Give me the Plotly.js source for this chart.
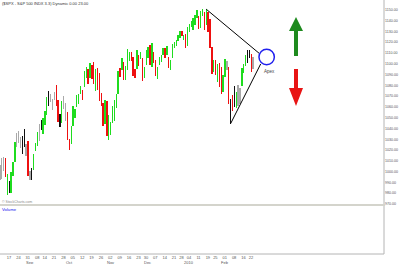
<!DOCTYPE html>
<html><head><meta charset="utf-8">
<script src="https://cdn.plot.ly/plotly-3.0.1.min.js"></script>
<style>html,body{margin:0;padding:0;background:#fff}#c{width:400px;height:264px}</style>
</head><body><div id="c"></div>
<script>
// trading days, Aug 11 2009 .. Feb 24 2010
const monthDays = {
  "2009-08": [11,12,13,14,17,18,19,20,21,24,25,26,27,28,31],
  "2009-09": [1,2,3,4,8,9,10,11,14,15,16,17,18,21,22,23,24,25,28,29,30],
  "2009-10": [1,2,5,6,7,8,9,12,13,14,15,16,19,20,21,22,23,26,27,28,29,30],
  "2009-11": [2,3,4,5,6,9,10,11,12,13,16,17,18,19,20,23,24,25,27,30],
  "2009-12": [1,2,3,4,7,8,9,10,11,14,15,16,17,18,21,22,23,24,28,29,30,31],
  "2010-01": [4,5,6,7,8,11,12,13,14,15,19,20,21,22,25,26,27,28,29],
  "2010-02": [1,2,3,4,5,8,9,10,11,12,16,17,18,19,22,23,24]
};
const highs = [
 1005.8,1012.8,1013.1,1012.6,998.2,991.2,999.6,1008.9,1027.6,1035.8,1037.8,1032.5,1033.3,1039.5,1025.2,
 1028.5,1000.3,1003.4,1016.5,1026.1,1036.3,1044.1,1048.2,1049.7,1056.0,1068.8,1074.8,1071.5,1067.3,1073.8,1080.2,1066.3,1053.5,1065.1,1069.6,1063.4,
 1054.9,1030.6,1042.6,1060.6,1058.0,1070.7,1071.5,1079.5,1075.3,1093.2,1096.6,1094.7,1100.2,1098.6,1101.4,1095.2,1095.8,1091.8,1072.5,1063.3,1066.8,1065.4,
 1052.2,1046.4,1061.0,1066.7,1071.5,1093.2,1096.4,1105.4,1102.0,1097.8,1113.7,1110.5,1111.1,1106.4,1094.7,1112.4,1107.6,1111.2,1105.5,1097.2,
 1112.3,1115.6,1117.3,1119.1,1110.7,1103.0,1097.0,1106.3,1108.5,1114.8,1114.1,1116.2,1106.4,1103.7,1118.7,1120.3,1121.6,1126.5,1130.4,1130.4,1126.4,1127.6,
 1133.9,1136.6,1139.2,1142.5,1145.4,1149.7,1143.8,1148.4,1150.4,1147.8,1150.5,1148.0,1141.6,1115.5,1103.0,1103.7,1099.5,1100.2,1096.5,
 1089.4,1104.7,1102.7,1097.3,1067.1,1071.2,1079.3,1073.7,1080.0,1077.8,1095.7,1099.5,1108.2,1112.4,1112.3,1108.6,1106.4
];
const lows = [
 992.4,993.4,1000.8,994.6,978.5,980.6,980.6,996.4,1009.1,1022.5,1026.2,1021.6,1016.2,1023.1,1014.6,
 996.3,992.0,992.3,1001.7,1018.7,1024.0,1028.0,1038.4,1035.0,1043.4,1052.9,1061.2,1064.3,1057.5,1066.4,1060.4,1045.9,1041.2,1045.4,1057.8,1046.5,
 1029.5,1020.0,1025.9,1042.0,1050.1,1060.0,1063.0,1071.6,1066.7,1078.7,1086.4,1081.5,1086.5,1086.2,1080.8,1074.3,1075.5,1065.2,1060.6,1042.2,1043.7,1033.4,
 1029.4,1033.9,1045.2,1047.3,1059.3,1072.3,1087.4,1093.8,1084.9,1085.3,1094.1,1102.2,1102.7,1088.4,1086.8,1094.9,1097.6,1104.8,1083.7,1086.3,
 1098.9,1105.3,1098.7,1096.5,1100.8,1088.6,1085.9,1098.7,1101.3,1107.8,1105.4,1108.0,1095.9,1093.9,1105.3,1114.5,1116.0,1121.1,1123.5,1126.1,1121.9,1114.8,
 1116.6,1129.7,1134.0,1131.3,1136.2,1142.0,1131.8,1133.2,1143.8,1131.4,1135.8,1129.3,1114.8,1090.2,1092.4,1089.9,1083.1,1078.5,1071.6,
 1073.9,1088.0,1094.0,1062.8,1044.5,1056.5,1060.1,1059.3,1060.6,1063.0,1079.1,1091.1,1097.5,1100.8,1105.4,1092.2,1095.5
];
// bar colour codes: g green, r red, k black, s grey
const barCodes =
 "sssrgkgggssskks" +
 "rskgggskgggksssrrkgss" +
 "rrggggggrggrgrrgrrrrgr" +
 "ggggggrgrgggrrrgrgrg" +
 "ggrgrrggggrgrggggggrgr" +
 "ggggggrggrgrrrgrgrr" +
 "ggsrkrkgssgggkkrs";
const tickDates = ["2009-08-17","2009-08-24","2009-08-31","2009-09-08","2009-09-14","2009-09-21","2009-09-28","2009-10-05","2009-10-12","2009-10-19","2009-10-26","2009-11-02","2009-11-09","2009-11-16","2009-11-23","2009-11-30","2009-12-07","2009-12-14","2009-12-21","2009-12-28","2010-01-04","2010-01-11","2010-01-19","2010-01-25","2010-02-01","2010-02-08","2010-02-16","2010-02-22"];
const tickLabels = ["17","24","31","08","14","21","28","05","12","19","26","02","09","16","23","30","07","14","21","28","04","11","19","25","01","08","16","22"];
const monthDates = ["2009-09-01","2009-10-01","2009-11-02","2009-12-01","2010-01-04","2010-02-01"];
const monthLabels = ["Sep","Oct","Nov","Dec","2010","Feb"];
const priceTicks = [970,980,990,1000,1010,1020,1030,1040,1050,1060,1070,1080,1090,1100,1110,1120,1130,1140,1150];
// pattern points (date, price)
const peak = ["2010-01-19", 1150.45];
const trough = ["2010-02-05", 1044.5];

const dates = [];
Object.keys(monthDays).forEach(m => monthDays[m].forEach(d => dates.push(m + "-" + String(d).padStart(2,"0"))));
const idx = d => dates.indexOf(d);
const xs = dates.map((d,i)=>i);
const colMap = {g:"#1fdc1f", r:"#ee1010", k:"#101010", s:"#a9a9a9"};
const cols = barCodes.split("").map(c=>colMap[c]);
const LBL = 0.85; // labels sit slightly right of the bar

// pixel helpers (plot area 384 x 254)
const PW=384, PH=254;
const px = x => x/PW, py = y => 1 - y/PH;
const sepY = 205;
const yDomLo = 1 - sepY/PH;
const FONT = "Liberation Sans, Arial, sans-serif";

const trace = {
  type:"bar", x:xs, base:lows, y:highs.map((h,i)=>h-lows[i]),
  marker:{color:cols, line:{width:0}}, width:0.72, hoverinfo:"skip"
};

function arrow(xc, yTip, yHeadBase, yTail, color){
  const hw=7, sw=2;
  return {type:"path", xref:"paper", yref:"paper", fillcolor:color, line:{width:0},
    path:`M ${px(xc)} ${py(yTip)} L ${px(xc+hw)} ${py(yHeadBase)} L ${px(xc+sw)} ${py(yHeadBase)} L ${px(xc+sw)} ${py(yTail)} L ${px(xc-sw)} ${py(yTail)} L ${px(xc-sw)} ${py(yHeadBase)} L ${px(xc-hw)} ${py(yHeadBase)} Z`};
}

const apexX = 142.2, apexY = 1106.2;
const shapes = [
  {type:"line", xref:"paper", yref:"paper", x0:1, x1:1, y0:0, y1:1, line:{color:"#b4b4b4", width:1}},
  {type:"line", xref:"paper", yref:"paper", x0:0, x1:1, y0:0, y1:0, line:{color:"#b4b4b4", width:1}},
  {type:"line", xref:"paper", yref:"paper", x0:0, x1:1.003, y0:yDomLo, y1:yDomLo, line:{color:"#d4d4cc", width:2}},
  {type:"line", xref:"x", yref:"y", x0:idx(peak[0]), y0:peak[1], x1:138.2, y1:1109.6, line:{color:"#000", width:1}},
  {type:"line", xref:"x", yref:"y", x0:idx(trough[0]), y0:trough[1], x1:139.0, y1:1099.7, line:{color:"#000", width:1}},
  {type:"circle", xref:"x", yref:"y", x0:apexX-4.1, x1:apexX+4.1, y0:apexY-7.1, y1:apexY+7.1, line:{color:"#2020ee", width:1.5}},
  arrow(296, 17, 31, 56, "#1e8a1e"),
  arrow(296, 106, 88, 69, "#e81414")
];

const annotations = [
  {xref:"paper", yref:"paper", x:0, y:py(4), text:"($SPX - S&P 500 INDX 3.3) Dynamic 0.00 23.00", showarrow:false, xanchor:"left", yanchor:"middle", font:{size:4, color:"#333", family:FONT}},
  {xref:"paper", yref:"paper", x:0, y:py(202), text:"© StockCharts.com", showarrow:false, xanchor:"left", yanchor:"middle", font:{size:3.5, color:"#888", family:FONT}},
  {xref:"paper", yref:"paper", x:0, y:py(209), text:"Volume", showarrow:false, xanchor:"left", yanchor:"middle", font:{size:4.2, color:"#1010ee", family:FONT}},
  {xref:"paper", yref:"paper", x:px(262), y:py(72), text:"Apex", showarrow:false, xanchor:"left", yanchor:"middle", font:{size:4.5, color:"#444", family:FONT}}
];
monthDates.forEach((d,i)=>annotations.push({xref:"x", yref:"paper", x:idx(d)+LBL, y:py(262), text:monthLabels[i], showarrow:false, xanchor:"center", yanchor:"middle", font:{size:4, color:"#555", family:FONT}}));

const layout = {
  width:400, height:264, margin:{l:0,r:16,t:0,b:10,pad:0},
  paper_bgcolor:"#fff", plot_bgcolor:"#fff", showlegend:false, bargap:0,
  font:{family:FONT, size:4, color:"#555"},
  xaxis:{range:[0.05,204.75], anchor:"free", position:0, tickvals:tickDates.map(d=>idx(d)+LBL), ticktext:tickLabels, ticks:"", ticklen:0, showgrid:false, zeroline:false, showline:false, tickfont:{size:4, color:"#555", family:FONT}, fixedrange:true},
  yaxis:{domain:[yDomLo,1], range:[969.07,1159.0], side:"right", tickvals:priceTicks, ticktext:priceTicks.map(v=>v.toFixed(2)), ticks:"", ticklen:0, showgrid:false, zeroline:false, showline:false, tickfont:{size:3.6, color:"#555", family:FONT}, fixedrange:true},
  shapes:shapes, annotations:annotations
};
Plotly.newPlot("c", [trace], layout, {staticPlot:true, displayModeBar:false});
</script></body></html>
